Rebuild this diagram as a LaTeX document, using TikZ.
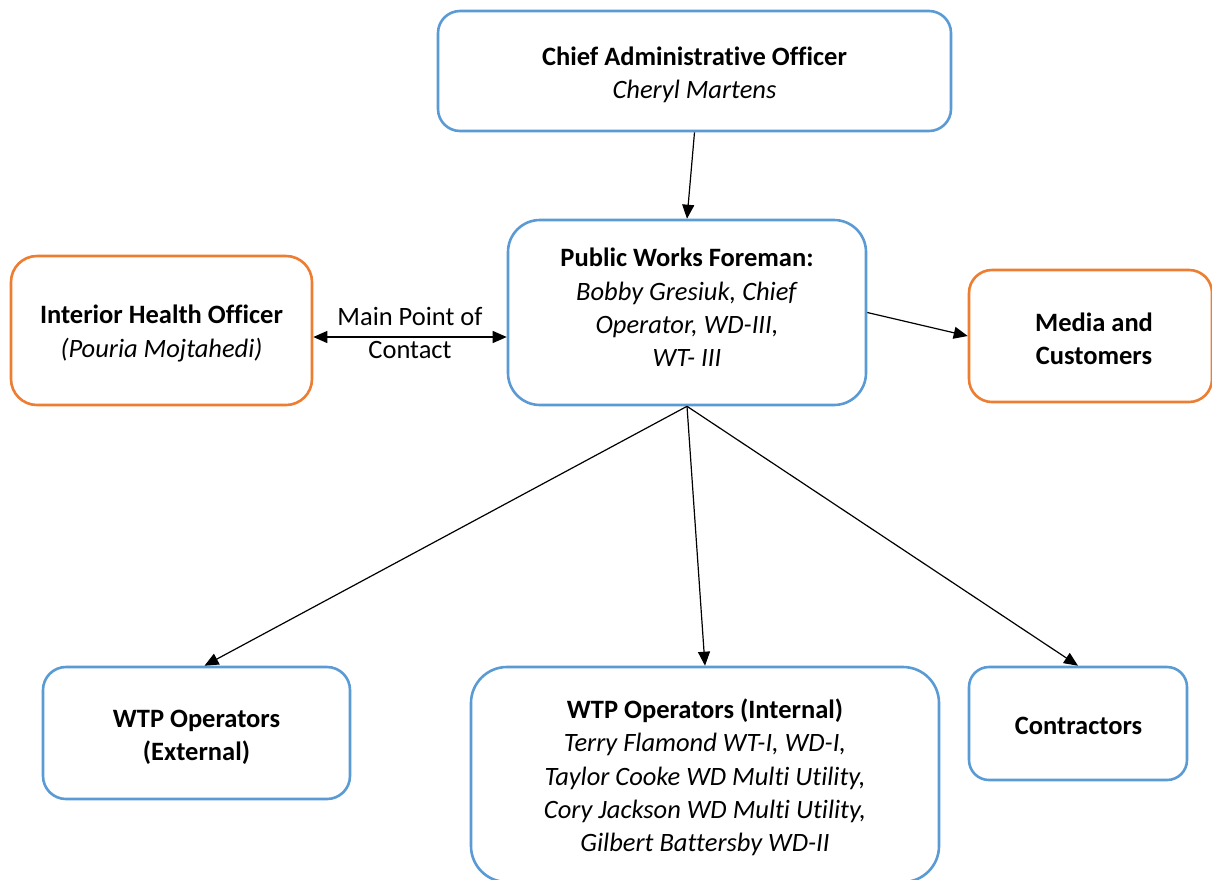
\documentclass[tikz,border=0pt]{standalone}
\usepackage{fontspec}
\setmainfont{Carlito}[Ligatures={NoCommon}]
\usetikzlibrary{arrows.meta,calc}
\definecolor{boxblue}{HTML}{5B9BD5}
\definecolor{boxorange}{HTML}{ED7D31}
\begin{document}
\begin{tikzpicture}[x=1pt,y=-1pt,
  box/.style={draw=boxblue,line width=2.6pt,fill=white,inner sep=0pt},
  obox/.style={box,draw=boxorange},
  txt/.style={align=center,inner sep=0pt,font=\fontsize{26.5}{33.3}\selectfont},
  conn/.style={line width=1.2pt,-{Triangle[length=14pt,width=12pt]}},
  dconn/.style={line width=1.2pt,{Triangle[length=14pt,width=12pt]}-{Triangle[length=14pt,width=12pt]}}]
\useasboundingbox (0,0) rectangle (1212,879);
% boxes
\node[box,minimum width=513pt,minimum height=120pt,rounded corners=22pt] (cao) at (694.5,71) {};
\node[box,minimum width=358pt,minimum height=185pt,rounded corners=32pt] (pwf) at (687,312.5) {};
\node[obox,minimum width=301pt,minimum height=149pt,rounded corners=26pt] (iho) at (161.5,330.5) {};
\node[obox,minimum width=243pt,minimum height=132pt,rounded corners=23pt] (media) at (1090.5,336) {};
\node[box,minimum width=307pt,minimum height=132pt,rounded corners=23pt] (ext) at (196.5,733) {};
\node[box,minimum width=468pt,minimum height=215pt,rounded corners=36pt] (int) at (705,774.5) {};
\node[box,minimum width=218pt,minimum height=113pt,rounded corners=20pt] (con) at (1078,723.5) {};
% texts
\node[txt] (caot) at (694.5,75) {\textbf{Chief Administrative Officer}\\\textit{Cheryl Martens}};
\node[txt] (pwft) at (687,307.5) {\textbf{Public Works Foreman:}\\\textit{Bobby Gresiuk, Chief}\\\textit{Operator, WD-III,}\\\textit{WT- III}};
\node[txt] (ihot) at (161.5,333.5) {\textbf{Interior Health Officer}\\\textit{(Pouria Mojtahedi)}};
\node[txt] (mediat) at (1094,338.5) {\textbf{Media and}\\\textbf{Customers}};
\node[txt] (extt) at (196.5,737) {\textbf{WTP Operators}\\\textbf{(External)}};
\node[txt] (intt) at (705,777.5) {\textbf{WTP Operators (Internal)}\\\textit{Terry Flamond WT-I, WD-I,}\\\textit{Taylor Cooke WD Multi Utility,}\\\textit{Cory Jackson WD Multi Utility,}\\\textit{Gilbert Battersby WD-II}};
\node[txt] (cont) at (1078.5,725.5) {\textbf{Contractors}};
\node[txt] (mpl) at (410,333) {Main Point of\\Contact};
% connectors
\coordinate (mp) at (410,337);
\coordinate (extin) at ($(ext.north)+(8,0)$);
\draw[conn] (cao.south) -- (pwf.north);
\draw[conn] (pwf.east) -- (media.west);
\draw[dconn] (mp -| iho.east) -- (mp -| pwf.west);
\draw[conn] (pwf.south) -- (extin);
\draw[conn] (pwf.south) -- (int.north);
\draw[conn] (pwf.south) -- (con.north);
\end{tikzpicture}
\end{document}
